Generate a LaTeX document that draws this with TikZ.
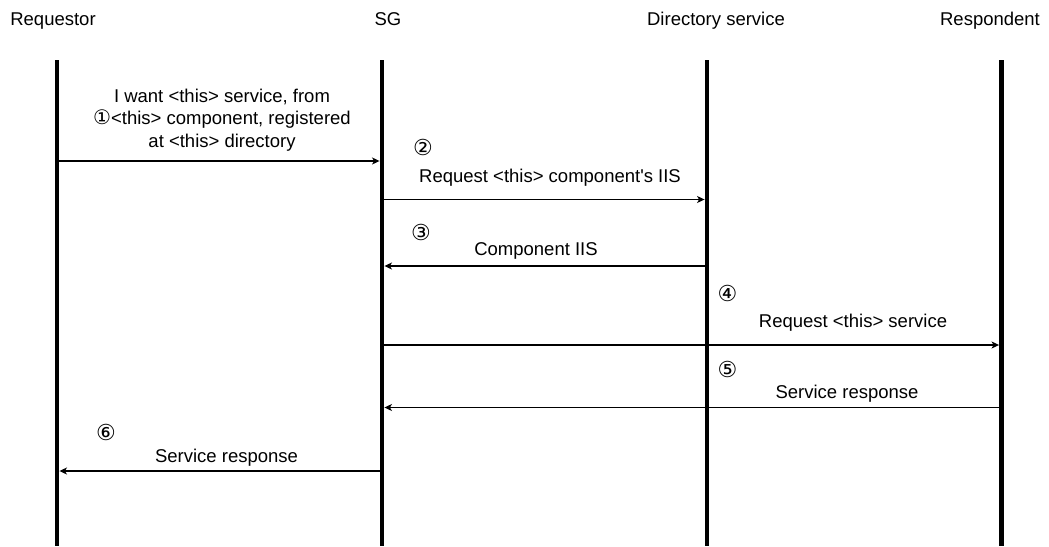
\documentclass[tikz,border=0pt]{standalone}
\usepackage{fontspec}
\setmainfont{Liberation Sans}[Ligatures=TeXOff]
\newfontfamily\circfont{DejaVu Sans}
\usetikzlibrary{arrows.meta}
\tikzset{
  lifeline/.style={rectangle, fill=black, inner sep=0pt, minimum width=4.5pt,
    minimum height=486pt, anchor=north},
  header/.style={anchor=base, inner sep=0pt},
  msgtext/.style={anchor=base, inner sep=0pt, align=center},
  stepnum/.style={inner sep=0pt, font=\fontsize{22}{24}\circfont},
  msg/.style={line width=1.2pt, -{Stealth[length=7.5pt, width=7pt, inset=2pt]}}
}
\begin{document}
\begin{tikzpicture}[x=1pt, y=-1pt, font=\fontsize{18.5}{22.5}\selectfont]
\useasboundingbox (0,0) rectangle (1049,546);

% participant names
\node[header] (hreq) at (53,25) {Requestor};
\node[header] (hsg)  at (388,25) {SG};
\node[header] (hdir) at (716,25) {Directory service};
\node[header] (hres) at (990,25) {Respondent};

% lifelines
\node[lifeline] (lreq) at (57,60) {};
\node[lifeline] (lsg)  at (382,60) {};
\node[lifeline] (ldir) at (707,60) {};
\node[lifeline] (lres) at (1001.5,60) {};

% 1: requestor -> SG (base anchor sits on the last line)
\node[msgtext] (t1) at (222,147) {I want <this> service, from\\{\fontsize{20}{22}\circfont ①}<this> component, registered\\at <this> directory};
\draw[msg] (lreq.east |- 0,161) -- (lsg.west |- 0,161);

% 2: SG -> directory service
\node[stepnum] (n2) at (423,147) {②};
\node[msgtext] (t2) at (550,182) {Request <this> component's IIS};
\draw[msg] (lsg.east |- 0,199.5) -- (ldir.west |- 0,199.5);

% 3: directory service -> SG
\node[stepnum] (n3) at (421,232) {③};
\node[msgtext] (t3) at (536,255) {Component IIS};
\draw[msg] (ldir.west |- 0,266) -- (lsg.east |- 0,266);

% 4: SG -> respondent
\node[stepnum] (n4) at (727.5,293) {④};
\node[msgtext] (t4) at (853,327) {Request <this> service};
\draw[msg] (lsg.east |- 0,345) -- (lres.west |- 0,345);

% 5: respondent -> SG
\node[stepnum] (n5) at (727.5,369) {⑤};
\node[msgtext] (t5) at (847,398) {Service response};
\draw[msg] (lres.west |- 0,407.5) -- (lsg.east |- 0,407.5);

% 6: SG -> requestor
\node[stepnum] (n6) at (106,432) {⑥};
\node[msgtext] (t6) at (226.5,462) {Service response};
\draw[msg] (lsg.west |- 0,471) -- (lreq.east |- 0,471);
\end{tikzpicture}
\end{document}
